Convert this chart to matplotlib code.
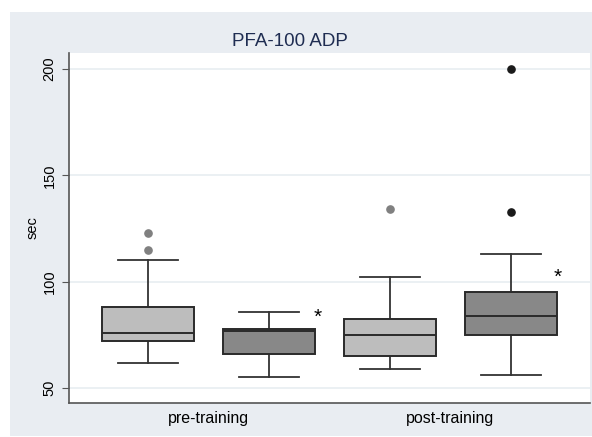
import matplotlib
matplotlib.use('Agg')
import matplotlib.pyplot as plt
from matplotlib.patches import Rectangle

""" --- data (read from picture) --- """
groups = ['pre-training', 'post-training']
positions = [1, 2, 3, 4]
whislo = [62, 55, 59, 56]
q1 = [72, 66, 65, 75]
med = [76, 77, 75, 84]
q3 = [88, 78, 82.5, 95]
whishi = [110, 86, 102, 113]
fliers = [[115, 123], [], [134], [133, 200]]
box_colors = ['#bdbdbd', '#888888', '#bdbdbd', '#888888']
flier_colors = ['#808080', '#1a1a1a', '#808080', '#1a1a1a']
star_pos = [(2.40, 85.7), (4.39, 104.5)]

BG = '#e9edf2'
EDGE = '#2a2a2a'


def main_plot():
    plt.rcParams['font.family'] = ['Liberation Sans', 'DejaVu Sans']
    fig = plt.figure(figsize=(5.92, 4.37), dpi=100)
    fig.patches.append(Rectangle((10 / 592, 1 / 437), 582 / 592, 424 / 437,
                                 transform=fig.transFigure, facecolor=BG,
                                 edgecolor='none', zorder=-5))
    ax = fig.add_axes([69 / 592, 34 / 437, 521 / 592, 350 / 437])
    ax.set_zorder(1)
    ax.set_facecolor('white')

    stats = []
    for i in range(len(positions)):
        stats.append({'med': med[i], 'q1': q1[i], 'q3': q3[i],
                      'whislo': whislo[i], 'whishi': whishi[i],
                      'fliers': fliers[i]})
    bp = ax.bxp(stats, positions=positions, widths=0.76, patch_artist=True,
                showfliers=False,
                boxprops=dict(edgecolor=EDGE, linewidth=1.4),
                medianprops=dict(color=EDGE, linewidth=1.4),
                whiskerprops=dict(color='#333333', linewidth=1.3),
                capprops=dict(color='#333333', linewidth=1.3),
                capwidths=0.5)
    for patch, c in zip(bp['boxes'], box_colors):
        patch.set_facecolor(c)
        patch.set_zorder(3)
    for m in bp['medians']:
        m.set_zorder(4)
    for i in range(len(positions)):
        if fliers[i]:
            ax.plot([positions[i]] * len(fliers[i]), fliers[i], 'o',
                    color=flier_colors[i], markersize=5.2, zorder=4)
    for x, y in star_pos:
        ax.text(x, y - 2.5, '*', ha='center', va='center', fontsize=15,
                color='black')

    ax.set_xlim(0.347, 4.653)
    ax.set_ylim(43, 207.5)
    ax.set_yticks([50, 100, 150, 200])
    ax.set_yticklabels(['50', '100', '150', '200'], rotation=90,
                       va='center', fontsize=10.5)
    ax.set_xticks([1.5, 3.5])
    ax.set_xticklabels(groups, fontsize=11.5)
    ax.tick_params(axis='x', length=0, pad=6)
    ax.tick_params(axis='y', length=5, color='#555555', pad=4)
    ax.grid(axis='y', color='#e8eef1', linewidth=1.2, zorder=0)
    ax.set_axisbelow(True)
    for s in ['top', 'right']:
        ax.spines[s].set_visible(False)
    for s in ['left', 'bottom']:
        ax.spines[s].set_color('#555555')
        ax.spines[s].set_linewidth(1.2)
    ax.set_ylabel('sec', fontsize=10.5)
    ax.yaxis.set_label_coords(-0.057, 0.5)

    fig.text(290 / 592, (437 - 41) / 437, 'PFA-100 ADP', ha='center',
             va='center', fontsize=13.5, color='#1f2d52')
    fig.savefig('out.png', dpi=100)


if __name__ == '__main__':
    main_plot()
